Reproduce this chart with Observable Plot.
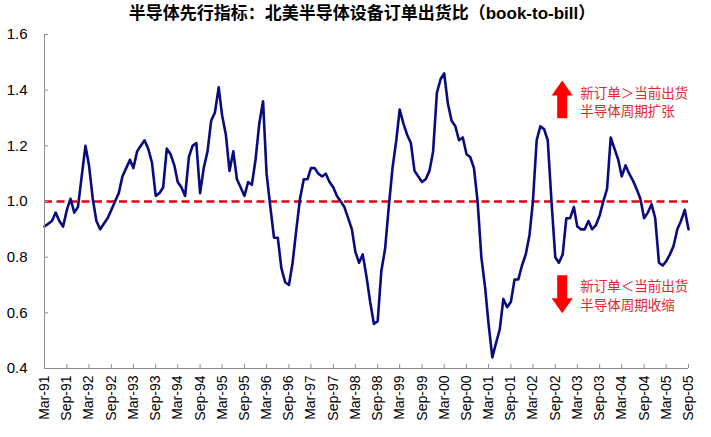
<!DOCTYPE html>
<html><head><meta charset="utf-8">
<script src="https://cdn.jsdelivr.net/npm/d3@7"></script>
<script src="https://cdn.jsdelivr.net/npm/@observablehq/plot@0.6"></script>
<style>
body{margin:0;background:#fff;}
#title{height:26px;line-height:28px;padding-left:13px;width:698px;text-align:center;font-weight:bold;font-size:17px;font-family:"Liberation Sans",Arial,"Noto Sans CJK SC",sans-serif;color:#000;white-space:nowrap}
</style></head><body>
<div id="title">半导体先行指标：北美半导体设备订单出货比（book-to-bill）</div>
<div id="chart"></div>
<script>
// monthly book-to-bill ratio, Mar-1991 .. Sep-2005
const firstMonth = "1991-03";
const bookToBill = [
 0.91,0.92,0.93,0.96,0.93,0.91,0.97,1.01,0.96,0.98,
 1.09,1.20,1.13,1.01,0.93,0.90,0.92,0.94,0.97,1.00,
 1.03,1.09,1.12,1.15,1.12,1.18,1.20,1.22,1.19,1.14,
 1.02,1.03,1.05,1.19,1.17,1.13,1.07,1.05,1.02,1.16,
 1.20,1.21,1.03,1.12,1.18,1.29,1.32,1.41,1.31,1.24,
 1.11,1.18,1.08,1.05,1.02,1.07,1.06,1.15,1.28,1.36,
 1.10,0.98,0.87,0.87,0.76,0.71,0.70,0.78,0.90,1.01,
 1.08,1.08,1.12,1.12,1.10,1.09,1.10,1.07,1.05,1.02,
 1.00,0.98,0.94,0.90,0.82,0.78,0.81,0.73,0.64,0.56,
 0.57,0.75,0.83,0.98,1.12,1.22,1.33,1.28,1.24,1.21,
 1.11,1.09,1.07,1.08,1.11,1.18,1.39,1.44,1.46,1.35,
 1.29,1.27,1.22,1.23,1.17,1.16,1.12,1.00,0.80,0.69,
 0.56,0.44,0.49,0.54,0.65,0.62,0.64,0.72,0.72,0.77,
 0.81,0.88,1.00,1.22,1.27,1.26,1.22,1.00,0.80,0.78,
 0.81,0.94,0.94,0.98,0.91,0.90,0.90,0.93,0.90,0.915,
 0.95,1.00,1.045,1.23,1.19,1.15,1.09,1.13,1.10,1.075,
 1.045,1.01,0.94,0.96,0.99,0.94,0.78,0.77,0.785,0.81,
 0.84,0.90,0.93,0.97,0.90
];
const xTickLabels = ["Mar-91","Sep-91","Mar-92","Sep-92","Mar-93","Sep-93","Mar-94","Sep-94",
 "Mar-95","Sep-95","Mar-96","Sep-96","Mar-97","Sep-97","Mar-98","Sep-98","Mar-99","Sep-99",
 "Mar-00","Sep-00","Mar-01","Sep-01","Mar-02","Sep-02","Mar-03","Sep-03","Mar-04","Sep-04",
 "Mar-05","Sep-05"];
const yTicks = [0.4,0.6,0.8,1.0,1.2,1.4,1.6];
const baseline = 1.0;
// annotations
const upNote = {month: "2003-03", value: 1.36, text: "新订单＞当前出货\n半导体周期扩张"};
const downNote = {month: "2003-03", value: 0.665, text: "新订单＜当前出货\n半导体周期收缩"};
const upArrow = {month: "2002-11", from: 1.297, to: 1.433};
const downArrow = {month: "2002-11", from: 0.733, to: 0.597};

const parseMonth = d3.utcParse("%Y-%m");
const parseTick = d3.utcParse("%b-%y");
const start = parseMonth(firstMonth);
const data = bookToBill.map((v, i) => ({date: d3.utcMonth.offset(start, i), value: v}));
const xTicks = xTickLabels.map(parseTick).filter(d => d <= data[data.length-1].date);
const xDomain = [data[0].date, data[data.length-1].date];

const W = 711, H = 411, mT = 8, mB = 69, mL = 44, mR = 23;
const plotW = W - mL - mR, plotH = H - mT - mB;
const axisColor = "#8c8c8c";

const chart = Plot.plot({
  width: W, height: H,
  marginTop: mT, marginBottom: mB, marginLeft: mL, marginRight: mR,
  style: {fontFamily: "'Liberation Sans', Arial, sans-serif", color: "#000", background: "#fff", overflow: "visible"},
  x: {type: "utc", domain: xDomain},
  y: {domain: [0.4, 1.6]},
  marks: [
    Plot.ruleY([baseline], {stroke: "#e60012", strokeWidth: 2.6, strokeDasharray: "8,4.5"}),
    Plot.line(data, {x: "date", y: "value", stroke: "#0b0b80", strokeWidth: 2.6, strokeLinejoin: "round"}),
    Plot.ruleX([xDomain[0]], {stroke: axisColor, strokeWidth: 1}),
    Plot.ruleY([0.4], {stroke: axisColor, strokeWidth: 1}),
    Plot.tickY(yTicks, {y: d => d, stroke: axisColor, insetRight: plotW - 4}),
    Plot.tickX(xTicks, {x: d => d, stroke: axisColor, insetTop: plotH - 4}),
    Plot.axisY({ticks: yTicks, tickSize: 0, tickPadding: 17, tickFormat: d => d.toFixed(1), fontSize: 15, label: null}),
    Plot.axisX({ticks: xTicks, tickSize: 0, tickPadding: 7, tickRotate: -90, tickFormat: d3.utcFormat("%b-%y"), fontSize: 14, label: null}),
    Plot.text([upNote, downNote], {x: d => parseMonth(d.month), y: "value", text: "text", textAnchor: "start", lineAnchor: "middle", lineHeight: 1.37, dx: 3, fill: "#e3262b", fontSize: 13.5, fontFamily: "'Noto Sans CJK SC', sans-serif"})
  ]
});
document.getElementById("chart").appendChild(chart);

// block arrows placed through the chart's scales
const sx = chart.scale("x"), sy = chart.scale("y");
function blockArrow(a) {
  const cx = sx.apply(parseMonth(a.month));
  const y0 = sy.apply(a.from), y1 = sy.apply(a.to);
  const dir = y1 < y0 ? 1 : -1; // up: tip smaller y
  const head = 15, hw = 10.5, sw = 5;
  const hb = y1 + dir * head;
  const p = d3.path();
  p.moveTo(cx, y1);
  p.lineTo(cx + hw, hb); p.lineTo(cx + sw, hb); p.lineTo(cx + sw, y0);
  p.lineTo(cx - sw, y0); p.lineTo(cx - sw, hb); p.lineTo(cx - hw, hb);
  p.closePath();
  d3.select(chart).append("path").attr("d", p.toString()).attr("fill", "#ff0000");
}
blockArrow(upArrow);
blockArrow(downArrow);
</script>
</body></html>
